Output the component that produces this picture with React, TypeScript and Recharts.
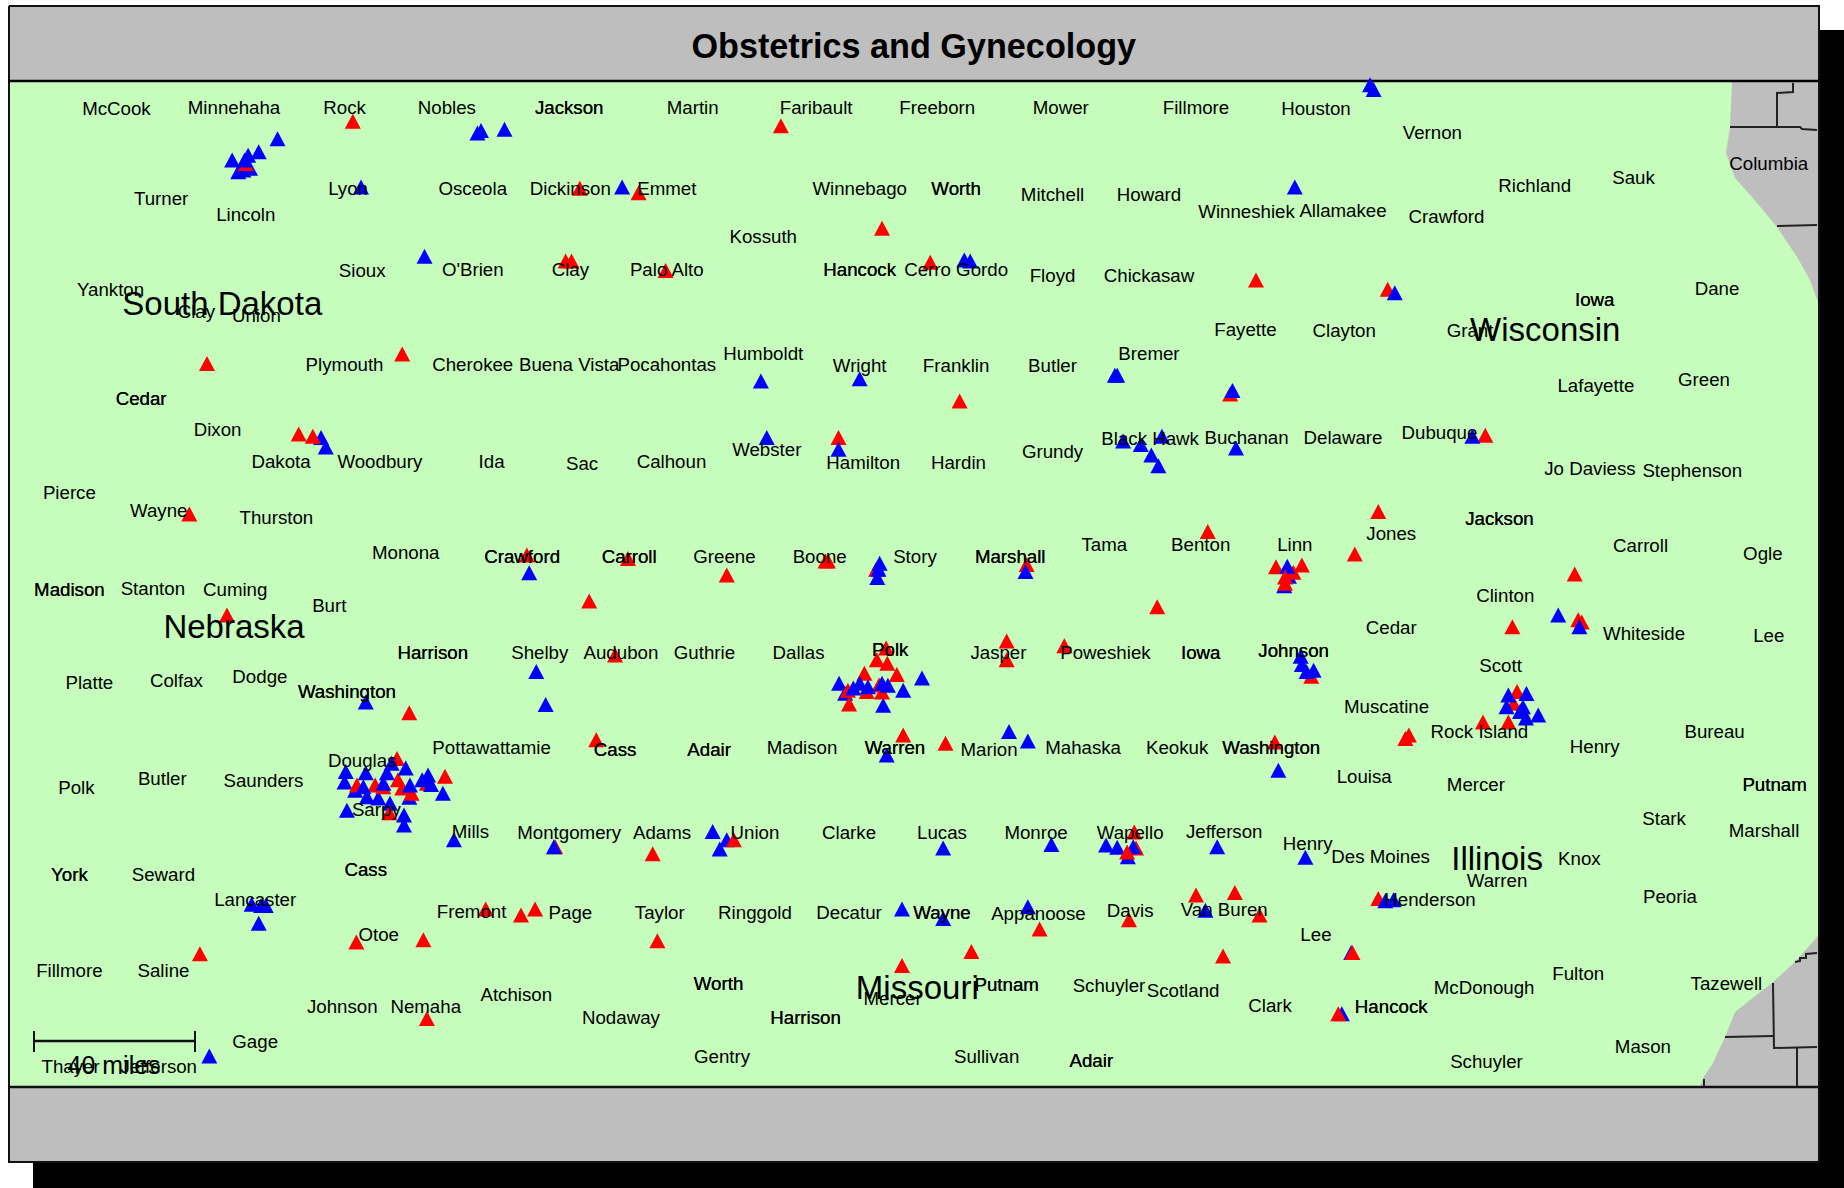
import React from "react";
import { ScatterChart, Scatter, XAxis, YAxis } from "recharts";

const WIDTH = 1844;
const HEIGHT = 1188;
const K = 1844 / 1568; // the lists of places and marks were read on a 1568-wide view

const title = "Obstetrics and Gynecology";
const scaleLabel = "40 miles";

type P = [number, number];
type L = [string, number, number];

const shadowOutline: P[] = [[33, 1188], [33, 1162], [1819, 1162], [1819, 30], [1844, 30], [1844, 1188], [33, 1188]];
const frameOutline: P[] = [[9, 6], [1819, 6], [1819, 1162], [9, 1162], [9, 6]];
const mapOutline: P[] = [
  [10, 82], [1732, 82], [1730, 127], [1726, 153], [1735, 178], [1752, 197], [1777, 227], [1797, 257],
  [1810, 280], [1818, 302], [1818, 936], [1795, 962], [1773, 982], [1735, 1012], [1725, 1037], [1713, 1063],
  [1703, 1078], [1700, 1087], [10, 1087],
];
const countyLines: P[][] = [
  [[1793, 83], [1793, 92], [1777, 93], [1777, 127]],
  [[1730, 127], [1800, 127], [1802, 129], [1817, 130]],
  [[1777, 226], [1817, 225]],
  [[1725, 1037], [1773, 1036]],
  [[1773, 983], [1774, 1048], [1817, 1047]],
  [[1797, 1048], [1797, 1086]],
  [[1795, 962], [1800, 961], [1800, 958], [1806, 958], [1806, 954], [1817, 953]],
  [[1704, 1079], [1704, 1086]],
];
const titleRule: P[] = [[8, 81], [1819, 81]];
const bottomRule: P[] = [[8, 1087], [1819, 1087]];
const scaleBar: P[] = [[34, 1041], [195, 1041]];
const scaleTickA: P[] = [[34, 1031], [34, 1052]];
const scaleTickB: P[] = [[195, 1031], [195, 1052]];

const blueUnder: P[] = [
  [294, 656], [293, 665], [295, 689], [343.5, 693], [343.5, 701.5], [376.6, 674.5], [713.5, 581], [718.6, 589.5], [768, 587], [751, 599.6],
  [1092, 498], [1096, 490], [959, 728.6], [1149, 810], [1141, 862], [612, 722], [618, 714], [207, 144.6], [212.6, 143], [202.6, 146],
  [273, 372], [277, 380], [321.7, 678.6], [312, 677.5], [331.6, 683], [348, 678], [302, 672],
];
const redMarks: P[] = [
  [300, 103], [664, 107], [493, 160], [543, 164], [750, 194], [791, 223], [481, 222], [486, 222], [566, 230], [342, 301],
  [176, 309], [816, 341], [254, 369], [266, 371], [713, 372], [161, 437], [1046, 335], [1068, 238], [1180, 246], [1263, 370],
  [1172, 435], [1027, 452], [1152, 471], [1085, 482], [1107, 480.4], [1099.8, 486.5], [1339, 488], [1286, 533],
  [1345, 529], [1342, 527], [984, 516], [873, 480], [702, 477], [704, 477], [745, 484], [618, 489], [534, 475], [448, 472],
  [501, 511], [193, 523], [523, 557], [856, 545], [856, 561], [905, 549], [753.5, 551], [745.6, 561], [754.5, 564], [735, 572.5],
  [762.6, 573.5], [722, 598.6], [721, 587], [737, 588], [747.5, 582.5], [750, 588.5], [348, 606], [507, 629], [768, 625], [804, 632], [1084, 631],
  [1115, 575], [1261, 614], [1282.6, 614], [1290, 588], [1295, 605], [1287, 598], [1195, 628], [1198, 625], [964.5, 707.5], [966, 721], [624, 714],
  [472, 720], [555, 726], [1172, 764], [1017, 761], [1050, 759], [1071, 778], [960, 782], [884, 790], [1040, 813], [826, 809],
  [767, 821], [559, 800], [443, 778], [455, 773], [413, 773], [360, 799], [303, 801], [170, 811], [363, 866], [1138, 862],
  [1150, 810], [337.6, 645], [378.4, 660], [303.5, 667.5], [319, 667.5], [326, 669], [338.4, 663], [342, 670], [350, 674.5], [363, 666],
  [331, 691], [209, 139],
];
const blueOver: P[] = [
  [1165, 72], [1168, 76], [236, 118], [220, 129], [197.4, 136], [211, 132], [208, 136], [406, 113], [409, 111], [429, 110],
  [307, 159], [529, 159], [1101, 159], [361, 218], [820, 221], [825, 222],
  [1186, 249], [647, 324], [731, 322], [950, 319], [948, 319], [1048, 332], [652, 372], [713, 382],
  [955, 375], [970, 378], [988, 371], [979, 387], [985, 396], [1051, 381], [1252, 371], [450, 487], [748, 479], [746, 491],
  [747, 484], [872, 486], [1094.6, 481.5], [1325, 523], [1343, 533], [1106, 558], [1107, 565], [1111, 571], [1117, 570], [456, 571],
  [464, 599], [311, 597], [784, 576.6], [731, 581], [738, 584], [750, 581], [755, 582.6], [725.6, 585], [1282.6, 591], [1298, 589.6], [1281, 601],
  [1295, 601], [1308, 608], [1292.5, 605], [1297.6, 610.6], [858, 622], [874, 630], [754, 642], [1087, 655],
  [311, 657], [333, 649], [345, 653], [364, 659], [359, 663], [366.5, 667], [348.6, 667.5], [329, 657], [309, 669], [326, 666], [386, 714],
  [471, 720], [606, 707], [802, 721], [894, 718], [940.5, 718.6], [950, 720.5], [963.6, 720], [1035, 720], [1110, 729], [1185, 765],
  [1178, 766], [767, 773], [874, 771], [802, 781], [1025, 774], [214, 769], [222, 770], [226, 770], [220, 785], [178, 898],
];
const redOver: P[] = [[1092.7, 490.6], [1092.7, 496], [958.4, 724.5]];

const countyLabels: L[] = [
  ["McCook", 99, 92], ["Minnehaha", 199, 91], ["Rock", 293, 91], ["Nobles", 380, 91], ["Martin", 589, 91], ["Faribault", 694, 91],
  ["Freeborn", 797, 91], ["Mower", 902, 91], ["Fillmore", 1017, 91], ["Houston", 1119, 92], ["Vernon", 1218, 113], ["Columbia", 1504, 139],
  ["Turner", 137, 169], ["Lincoln", 209, 182], ["Lyon", 296, 160], ["Osceola", 402, 160], ["Dickinson", 485, 160], ["Emmet", 567, 160],
  ["Winnebago", 731, 160], ["Mitchell", 895, 165], ["Howard", 977, 165], ["Winneshiek", 1060, 180], ["Allamakee", 1142, 179], ["Crawford", 1230, 184],
  ["Richland", 1305, 158], ["Sauk", 1389, 151], ["Kossuth", 649, 201], ["Yankton", 94, 246], ["Sioux", 308, 230], ["O'Brien", 402, 229],
  ["Clay", 485, 229], ["Palo Alto", 567, 229], ["Cerro Gordo", 813, 229], ["Floyd", 895, 234], ["Chickasaw", 977, 234], ["Clay", 167, 265],
  ["Union", 218, 268], ["Dane", 1460, 245], ["Grant", 1250, 281], ["Fayette", 1059, 280], ["Clayton", 1143, 281], ["Plymouth", 293, 310],
  ["Cherokee", 402, 310], ["Buena Vista", 484, 310], ["Pocahontas", 567, 310], ["Humboldt", 649, 301], ["Wright", 731, 311], ["Franklin", 813, 311],
  ["Butler", 895, 311], ["Bremer", 977, 301], ["Lafayette", 1357, 328], ["Green", 1449, 323], ["Dixon", 185, 365], ["Dakota", 239, 392],
  ["Woodbury", 323, 392], ["Ida", 418, 392], ["Sac", 495, 394], ["Calhoun", 571, 392], ["Webster", 652, 382], ["Hamilton", 734, 393],
  ["Hardin", 815, 393], ["Grundy", 895, 384], ["Black Hawk", 978, 373], ["Buchanan", 1060, 372], ["Delaware", 1142, 372], ["Dubuque", 1224, 368],
  ["Jo Daviess", 1352, 398], ["Stephenson", 1439, 400], ["Pierce", 59, 419], ["Wayne", 135, 434], ["Thurston", 235, 440], ["Jones", 1183, 454],
  ["Monona", 345, 470], ["Greene", 616, 473], ["Boone", 697, 473], ["Story", 778, 473], ["Tama", 939, 463], ["Benton", 1021, 463],
  ["Linn", 1101, 463], ["Carroll", 1395, 464], ["Ogle", 1499, 471], ["Stanton", 130, 500], ["Cuming", 200, 501], ["Burt", 280, 515],
  ["Clinton", 1280, 506], ["Cedar", 1183, 534], ["Whiteside", 1398, 539], ["Lee", 1504, 540], ["Shelby", 459, 555], ["Audubon", 528, 555],
  ["Guthrie", 599, 555], ["Dallas", 679, 555], ["Jasper", 849, 555], ["Poweshiek", 940, 555], ["Scott", 1276, 566], ["Platte", 76, 580],
  ["Colfax", 150, 579], ["Dodge", 221, 575], ["Muscatine", 1179, 601], ["Pottawattamie", 418, 636], ["Madison", 682, 636], ["Marion", 841, 637],
  ["Mahaska", 921, 636], ["Keokuk", 1001, 636], ["Rock Island", 1258, 622], ["Henry", 1356, 635], ["Bureau", 1458, 622], ["Douglas", 308, 647],
  ["Polk", 65, 670], ["Butler", 138, 662], ["Saunders", 224, 664], ["Louisa", 1160, 660], ["Mercer", 1255, 667], ["Stark", 1415, 696],
  ["Marshall", 1500, 706], ["Sarpy", 320, 688], ["Mills", 400, 707], ["Montgomery", 484, 708], ["Adams", 563, 708], ["Union", 642, 708],
  ["Clarke", 722, 708], ["Lucas", 801, 708], ["Monroe", 881, 708], ["Wapello", 961, 708], ["Jefferson", 1041, 707], ["Henry", 1112, 717],
  ["Des Moines", 1174, 728], ["Knox", 1343, 730], ["Warren", 1273, 749], ["Seward", 139, 744], ["Lancaster", 217, 765], ["Henderson", 1216, 765],
  ["Peoria", 1420, 762], ["Fremont", 401, 775], ["Page", 485, 776], ["Taylor", 561, 776], ["Ringgold", 642, 776], ["Decatur", 722, 776],
  ["Appanoose", 883, 777], ["Davis", 961, 774], ["Van Buren", 1041, 773], ["Otoe", 322, 795], ["Lee", 1119, 795], ["Fillmore", 59, 825],
  ["Saline", 139, 825], ["Schuyler", 943, 838], ["Scotland", 1006, 842], ["McDonough", 1262, 840], ["Fulton", 1342, 828], ["Tazewell", 1468, 836],
  ["Mercer", 759, 849], ["Johnson", 291, 856], ["Nemaha", 362, 856], ["Atchison", 439, 846], ["Clark", 1080, 855], ["Nodaway", 528, 865],
  ["Gage", 217, 886], ["Mason", 1397, 890], ["Gentry", 614, 898], ["Sullivan", 839, 898], ["Schuyler", 1264, 903], ["Thayer", 60, 907], ["Jefferson", 135, 907],
];
// These names sit where two counties coincide, so they are printed twice and read heavier.
const doubledLabels: L[] = [
  ["Jackson", 484, 91], ["Worth", 813, 160], ["Hancock", 731, 229], ["Iowa", 1356, 255], ["Cedar", 120, 339], ["Jackson", 1275, 441],
  ["Crawford", 444, 473], ["Carroll", 535, 473], ["Marshall", 859, 473], ["Madison", 59, 501], ["Harrison", 368, 555], ["Polk", 757, 552],
  ["Iowa", 1021, 555], ["Johnson", 1100, 553], ["Washington", 295, 588], ["Cass", 523, 637], ["Adair", 603, 637], ["Warren", 761, 636],
  ["Washington", 1081, 636], ["Putnam", 1509, 667], ["York", 59, 744], ["Cass", 311, 739], ["Wayne", 801, 776], ["Worth", 611, 836],
  ["Putnam", 856, 837], ["Hancock", 1183, 856], ["Harrison", 685, 865], ["Adair", 928, 902],
];
const stateLabels: L[] = [
  ["South Dakota", 189, 258], ["Wisconsin", 1314, 280], ["Nebraska", 199, 533], ["Illinois", 1273, 730], ["Missouri", 780, 840],
];
const titleLabel: L[] = [[title, 777, 39]];
const scaleLabels: L[] = [[scaleLabel, 97, 906]];

const full = (pts: P[]) => pts.map(([x, y]) => ({ x, y }));
const view = (pts: P[]) => pts.map(([x, y]) => ({ x: x * K, y: y * K }));
const texts = (ls: L[]) => ls.map(([name, x, y]) => ({ name, x: x * K, y: y * K }));

const Nothing = () => <g />;

const triangle = (fill: string) => (p: any) => (
  <path d={`M${p.cx},${p.cy - 7.5}L${p.cx - 8},${p.cy + 7.5}L${p.cx + 8},${p.cy + 7.5}Z`} fill={fill} />
);

const label = (size: number, weight: string = "normal") => (p: any) => (
  <text
    x={p.cx}
    y={p.cy}
    textAnchor="middle"
    dominantBaseline="central"
    fontFamily="'Liberation Sans', Arial, sans-serif"
    fontSize={size}
    fontWeight={weight}
    fill="#000"
  >
    {p.payload?.name ?? p.name}
  </text>
);

const Shape = (pts: P[], fill: string, stroke: string, strokeWidth = 2) => (
  <Scatter
    data={full(pts)}
    isAnimationActive={false}
    shape={Nothing}
    line={{ fill, stroke, strokeWidth }}
    lineJointType="linear"
    legendType="none"
  />
);

export default function App() {
  return (
    <div style={{ position: "absolute", left: 0, top: 0, width: WIDTH, height: HEIGHT }}>
      <ScatterChart width={WIDTH} height={HEIGHT} margin={{ top: 0, right: 0, bottom: 0, left: 0 }}>
        <XAxis type="number" dataKey="x" domain={[0, WIDTH]} hide />
        <YAxis type="number" dataKey="y" domain={[0, HEIGHT]} reversed hide />
        {Shape(shadowOutline, "#000", "none")}
        {Shape(frameOutline, "#bebebe", "#111")}
        {Shape(mapOutline, "#c6fcbc", "none")}
        {countyLines.map((c, i) => (
          <React.Fragment key={i}>{Shape(c, "none", "#222")}</React.Fragment>
        ))}
        {Shape(titleRule, "none", "#000", 2.5)}
        {Shape(bottomRule, "none", "#111", 2.5)}
        <Scatter data={view(blueUnder)} isAnimationActive={false} shape={triangle("#0000ff")} />
        <Scatter data={view(redMarks)} isAnimationActive={false} shape={triangle("#ff0000")} />
        <Scatter data={view(blueOver)} isAnimationActive={false} shape={triangle("#0000ff")} />
        <Scatter data={view(redOver)} isAnimationActive={false} shape={triangle("#ff0000")} />
        {Shape(scaleBar, "none", "#111", 2.5)}
        {Shape(scaleTickA, "none", "#111", 2)}
        {Shape(scaleTickB, "none", "#111", 2)}
        <Scatter data={texts(countyLabels)} isAnimationActive={false} shape={label(18.7)} />
        <Scatter data={texts(doubledLabels)} isAnimationActive={false} shape={label(18.7)} />
        <Scatter data={texts(doubledLabels)} isAnimationActive={false} shape={label(18.7)} />
        <Scatter data={texts(stateLabels)} isAnimationActive={false} shape={label(33)} />
        <Scatter data={texts(scaleLabels)} isAnimationActive={false} shape={label(25)} />
        <Scatter data={texts(titleLabel)} isAnimationActive={false} shape={label(34.2, "bold")} />
      </ScatterChart>
    </div>
  );
}
